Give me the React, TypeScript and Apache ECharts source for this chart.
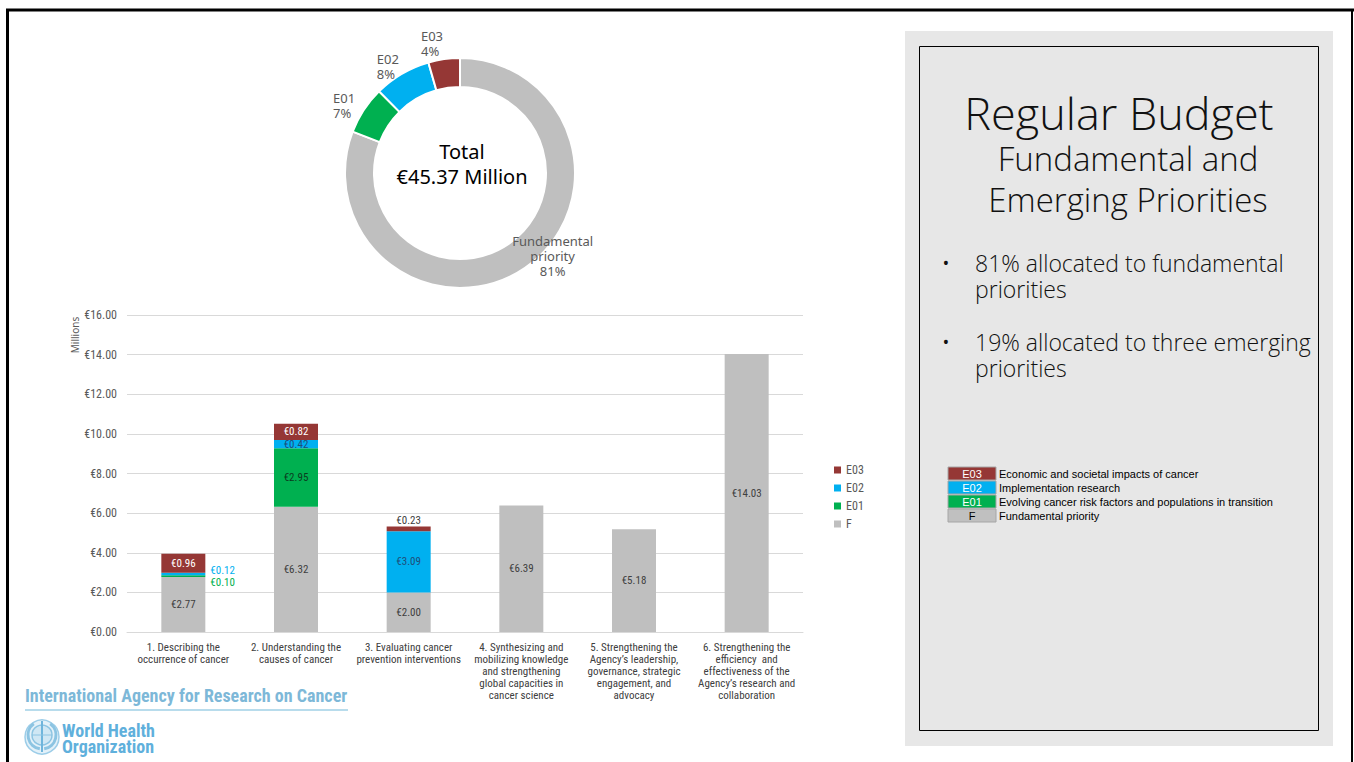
import React, { useEffect, useRef } from "react";
import * as echarts from "echarts";

const categories = [
  "1. Describing the\noccurrence of cancer",
  "2. Understanding the\ncauses of cancer",
  "3. Evaluating cancer\nprevention interventions",
  "4. Synthesizing and\nmobilizing knowledge\nand strengthening\nglobal capacities in\ncancer science",
  "5. Strengthening the\nAgency’s leadership,\ngovernance, strategic\nengagement, and\nadvocacy",
  "6. Strengthening the\nefficiency  and\neffectiveness of the\nAgency’s research and\ncollaboration",
];
const valuesF = [2.77, 6.32, 2.0, 6.39, 5.18, 14.03];
const valuesE01 = [0.1, 2.95, 0, 0, 0, 0];
const valuesE02 = [0.12, 0.42, 3.09, 0, 0, 0];
const valuesE03 = [0.96, 0.82, 0.23, 0, 0, 0];
const yMin = 0;
const yMax = 16;
const yInterval = 2;
const pieNames = ["Fundamental\npriority", "E01", "E02", "E03"];
const totalText = ["Total", "€45.37 Million"];
const legendRows = [
  { code: "E03", text: "Economic and societal impacts of cancer" },
  { code: "E02", text: "Implementation research" },
  { code: "E01", text: "Evolving cancer risk factors and populations in transition" },
  { code: "F", text: "Fundamental priority" },
];
const titleLines = ["Regular Budget", "Fundamental and", "Emerging Priorities"];
const bulletLines = [
  "81% allocated to fundamental\npriorities",
  "19% allocated to three emerging\npriorities",
];

const COLORS: Record<string, string> = {
  F: "#bfbfbf",
  E01: "#00b050",
  E02: "#00b0f0",
  E03: "#953735",
};
const NARROW = "'Liberation Sans Narrow', 'Arial Narrow', 'Roboto Condensed', sans-serif";
const SANS = "'Noto Sans', 'DejaVu Sans', sans-serif";
const PANEL = "'Open Sans', Lato, sans-serif";

const sum = (a: number[]) => a.reduce((s, v) => s + v, 0);

export default function App() {
  const ref = useRef<HTMLDivElement>(null);
  useEffect(() => {
    if (!ref.current) return;
    const chart = echarts.init(ref.current, null, { renderer: "svg" });

    const fmt = (v: number) => "€" + v.toFixed(2);
    const insideColor: Record<string, string> = {
      F: "#404040",
      E01: "#0b3d1f",
      E02: "#1f4e79",
      E03: "#ffffff",
    };
    const specialLabel: Record<string, Record<number, any>> = {
      E01: { 0: { position: "right", color: "#00b050", offset: [0, 6] } },
      E02: { 0: { position: "right", color: "#00b0f0", offset: [0, -3] } },
      E03: { 2: { position: "top", color: "#404040", distance: 1 } },
    };
    const makeSeries = (name: string, vals: number[]) => ({
      name,
      type: "bar",
      stack: "total",
      barWidth: 44,
      itemStyle: { color: COLORS[name] },
      label: {
        show: true,
        position: "inside",
        color: insideColor[name],
        fontSize: 11,
        fontFamily: NARROW,
        formatter: (p: any) => (p.value > 0 ? fmt(p.value) : ""),
      },
      data: vals.map((v, i) => {
        const sp = specialLabel[name] && specialLabel[name][i];
        return sp ? { value: v, label: sp } : { value: v };
      }),
    });

    const pieValues = [sum(valuesF), sum(valuesE01), sum(valuesE02), sum(valuesE03)];
    const pieColors = [COLORS.F, COLORS.E01, COLORS.E02, COLORS.E03];

    const graphics: any[] = [];
    // frame
    graphics.push(
      { type: "line", shape: { x1: 6, y1: 10, x2: 1354, y2: 10 }, style: { stroke: "#000", lineWidth: 3 } },
      { type: "line", shape: { x1: 7.5, y1: 9, x2: 7.5, y2: 762 }, style: { stroke: "#000", lineWidth: 3 } },
      { type: "line", shape: { x1: 1352, y1: 9, x2: 1352, y2: 762 }, style: { stroke: "#000", lineWidth: 2 } }
    );
    // right panel
    graphics.push(
      { type: "rect", shape: { x: 905, y: 31, width: 428, height: 715 }, style: { fill: "#e7e7e7" }, z: -1 },
      { type: "rect", shape: { x: 919.5, y: 46.5, width: 399, height: 684 }, style: { fill: "none", stroke: "#000", lineWidth: 1 } }
    );
    const titleSpecs = [
      { x: 1119, y: 112, size: 45 },
      { x: 1128, y: 158, size: 33 },
      { x: 1128, y: 199, size: 33 },
    ];
    titleLines.forEach((t, i) =>
      graphics.push({
        type: "text",
        x: titleSpecs[i].x,
        y: titleSpecs[i].y,
        style: {
          text: t,
          fill: "#111",
          font: `300 ${titleSpecs[i].size}px ${PANEL}`,
          align: "center",
          verticalAlign: "middle",
        },
      })
    );
    const bulletTop = [250, 329];
    bulletLines.forEach((txt, bi) => {
      graphics.push(
        {
          type: "text",
          x: 946,
          y: bulletTop[bi] + 13,
          style: { text: "•", fill: "#111", font: `18px ${PANEL}`, align: "center", verticalAlign: "middle" },
        },
        {
          type: "text",
          x: 975,
          y: bulletTop[bi],
          style: { text: txt, fill: "#111", font: `300 23px ${PANEL}`, lineHeight: 26, align: "left", verticalAlign: "top" },
        }
      );
    });
    // legend table
    legendRows.forEach((r, i) => {
      const y = 467 + i * 14;
      graphics.push(
        {
          type: "rect",
          shape: { x: 948, y, width: 48, height: 13 },
          style: { fill: r.code === "F" ? "#c0c0c0" : COLORS[r.code], stroke: "#a6a6a6", lineWidth: 1 },
        },
        {
          type: "text",
          x: 972,
          y: y + 7,
          style: {
            text: r.code,
            fill: r.code === "F" ? "#000" : "#fff",
            font: `11px 'Liberation Sans', sans-serif`,
            align: "center",
            verticalAlign: "middle",
          },
        },
        {
          type: "text",
          x: 999,
          y: y + 7,
          style: { text: r.text, fill: "#000", font: `11px 'Liberation Sans', sans-serif`, align: "left", verticalAlign: "middle" },
        }
      );
    });
    // donut centre text
    graphics.push({
      type: "text",
      x: 462,
      y: 164,
      style: {
        text: totalText.join("\n"),
        fill: "#000",
        font: `20px ${SANS}`,
        lineHeight: 25,
        align: "center",
        verticalAlign: "middle",
      },
    });
    // Millions
    graphics.push({
      type: "text",
      x: 75,
      y: 335,
      rotation: Math.PI / 2,
      style: { text: "Millions", fill: "#595959", font: `10px ${SANS}`, align: "center", verticalAlign: "middle" },
    });
    // logos
    const blue = "#7db8d8";
    graphics.push(
      {
        type: "text",
        x: 25,
        y: 695,
        style: { text: "International Agency for Research on Cancer", fill: blue, font: `bold 18px ${NARROW}`, align: "left", verticalAlign: "middle" },
      },
      { type: "line", shape: { x1: 25, y1: 710, x2: 348, y2: 710 }, style: { stroke: "#b8dcec", lineWidth: 2 } },
      { type: "circle", shape: { cx: 42, cy: 737, r: 17 }, style: { fill: "#e3f1f9", stroke: "#9ccde8", lineWidth: 1.5 } },
      { type: "circle", shape: { cx: 42, cy: 735, r: 10 }, style: { fill: "#cfe7f4", stroke: "#8cc4e2", lineWidth: 1.5 } },
      { type: "arc", shape: { cx: 42, cy: 735, r: 14, startAngle: Math.PI * 0.55, endAngle: Math.PI * 1.3 }, style: { stroke: "#8cc4e2", lineWidth: 3, fill: "none" } },
      { type: "arc", shape: { cx: 42, cy: 735, r: 14, startAngle: -Math.PI * 0.3, endAngle: Math.PI * 0.45 }, style: { stroke: "#8cc4e2", lineWidth: 3, fill: "none" } },
      { type: "line", shape: { x1: 42, y1: 721, x2: 42, y2: 752 }, style: { stroke: "#6fb5dc", lineWidth: 2 } },
      { type: "line", shape: { x1: 32, y1: 735, x2: 52, y2: 735 }, style: { stroke: "#8cc4e2", lineWidth: 1 } },
      {
        type: "text",
        x: 62,
        y: 738.5,
        style: {
          text: "World Health\nOrganization",
          fill: "#5fb0dc",
          font: `bold 18px ${NARROW}`,
          lineHeight: 16,
          align: "left",
          verticalAlign: "middle",
        },
      }
    );

    chart.setOption({
      animation: false,
      backgroundColor: "#ffffff",
      textStyle: { fontFamily: NARROW },
      legend: {
        orient: "vertical",
        left: 829,
        top: 459,
        itemWidth: 7,
        itemHeight: 7,
        itemGap: 6,
        itemTextGap: 4,
        icon: "rect",
        data: ["E03", "E02", "E01", "F"],
        textStyle: { fontSize: 12, color: "#595959", fontFamily: NARROW },
      },
      grid: { left: 127, right: 551, top: 315, bottom: 130, containLabel: false },
      xAxis: {
        type: "category",
        data: categories,
        axisLine: { lineStyle: { color: "#d9d9d9" } },
        axisTick: { show: false },
        axisLabel: {
          interval: 0,
          color: "#404040",
          fontSize: 11,
          lineHeight: 12,
          margin: 9,
          fontFamily: NARROW,
        },
      },
      yAxis: {
        type: "value",
        min: yMin,
        max: yMax,
        interval: yInterval,
        axisLine: { show: false },
        axisTick: { show: false },
        splitLine: { lineStyle: { color: "#d9d9d9" } },
        axisLabel: { color: "#595959", fontSize: 12, margin: 10, fontFamily: NARROW, formatter: (v: number) => fmt(v) },
      },
      series: [
        makeSeries("F", valuesF),
        makeSeries("E01", valuesE01),
        makeSeries("E02", valuesE02),
        makeSeries("E03", valuesE03),
        {
          type: "pie",
          center: [460, 173],
          radius: [86, 115],
          startAngle: 90,
          clockwise: true,
          percentPrecision: 0,
          avoidLabelOverlap: false,
          itemStyle: { borderColor: "#fff", borderWidth: 2 },
          label: {
            show: true,
            position: "outside",
            formatter: "{b}\n{d}%",
            color: "#595959",
            fontSize: 13,
            lineHeight: 15,
            fontFamily: SANS,
            distanceToLabelLine: 2,
          },
          labelLine: { show: false, length: 8, length2: 0 },
          labelLayout: (p: any) =>
            p.dataIndex === 0
              ? { dx: 21, dy: -18, align: "center" }
              : p.dataIndex === 3
              ? { dy: -8, align: "left", dx: -20 }
              : p.dataIndex === 2
              ? { align: "left", dx: -19 }
              : { align: "left", dx: -22 },
          data: pieValues.map((v, i) => ({ name: pieNames[i], value: v, itemStyle: { color: pieColors[i] } })),
        },
      ],
      graphic: graphics,
    });
    return () => chart.dispose();
  }, []);
  return (
    <div
      ref={ref}
      style={{ position: "fixed", left: 0, top: 0, width: 1354, height: 762 }}
    />
  );
}
